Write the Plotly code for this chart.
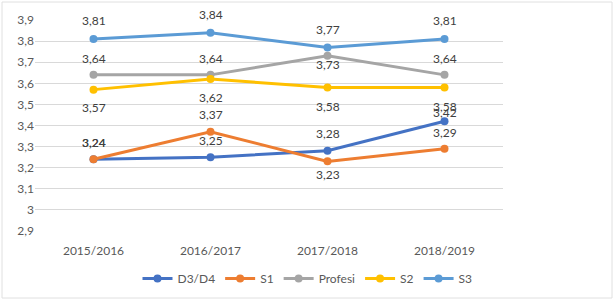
import plotly.graph_objects as go

years = ["2015/2016", "2016/2017", "2017/2018", "2018/2019"]
series_names = ["D3/D4", "S1", "Profesi", "S2", "S3"]
d3d4 = [3.24, 3.25, 3.28, 3.42]
s1 = [3.24, 3.37, 3.23, 3.29]
profesi = [3.64, 3.64, 3.73, 3.64]
s2 = [3.57, 3.62, 3.58, 3.58]
s3 = [3.81, 3.84, 3.77, 3.81]
tick_vals = [2.9, 3.0, 3.1, 3.2, 3.3, 3.4, 3.5, 3.6, 3.7, 3.8, 3.9]
tick_text = ["2,9", "3", "3,1", "3,2", "3,3", "3,4", "3,5", "3,6", "3,7", "3,8", "3,9"]

colors = ["#4472C4", "#ED7D31", "#A5A5A5", "#FFC000", "#5B9BD5"]
# label vertical shift (px) per point, style only
shifts = [
    [17, 17, 17, 9],
    [17, 17, -13, 16],
    [16, 16, -9, 16],
    [-18, -18, -19, -19],
    [18, 18, 18, 18],
]
all_values = [d3d4, s1, profesi, s2, s3]

FONT = "Lato"
fig = go.Figure()
annotations = []
for name, vals, col, sh in zip(series_names, all_values, colors, shifts):
    fig.add_trace(go.Scatter(
        x=years, y=vals, name=name, mode="lines+markers",
        line=dict(color=col, width=3),
        marker=dict(color=col, size=8),
    ))
    for x, v, s in zip(years, vals, sh):
        annotations.append(dict(
            x=x, y=v, xref="x", yref="y", text=f"{v:.2f}".replace(".", ","),
            showarrow=False, yshift=s, font=dict(family=FONT, size=12, color="#404040"),
        ))

fig.update_layout(
    width=615, height=301,
    margin=dict(l=35, r=112, t=20, b=70, autoexpand=False),
    paper_bgcolor="white", plot_bgcolor="white",
    font=dict(family=FONT, size=12, color="#595959"),
    annotations=annotations,
    showlegend=True,
    legend=dict(orientation="h", xref="container", yref="container",
                x=0.5, xanchor="center", y=0.075, yanchor="middle",
                font=dict(family=FONT, size=12, color="#595959"),
                itemwidth=30, tracegroupgap=0),
    xaxis=dict(showgrid=False, showline=False, zeroline=False,
               ticks="outside", ticklen=9, tickcolor="rgba(0,0,0,0)", automargin=False,
               range=[-0.5, 3.5],
               tickfont=dict(family=FONT, size=12, color="#595959")),
    yaxis=dict(range=[2.9, 3.9], tickvals=tick_vals, ticktext=tick_text,
               showgrid=True, gridcolor="#D9D9D9", gridwidth=1, zeroline=False,
               showline=False, ticks="", automargin=False,
               tickfont=dict(family=FONT, size=12, color="#595959")),
    shapes=[dict(type="rect", xref="paper", yref="paper",
                 x0=-33 / 468, x1=(612 - 35) / 468, y0=-67 / 211, y1=(211 + 18) / 211,
                 line=dict(color="#E0E0E0", width=1), fillcolor="rgba(0,0,0,0)", layer="below")],
)
fig.write_html("out.html")
